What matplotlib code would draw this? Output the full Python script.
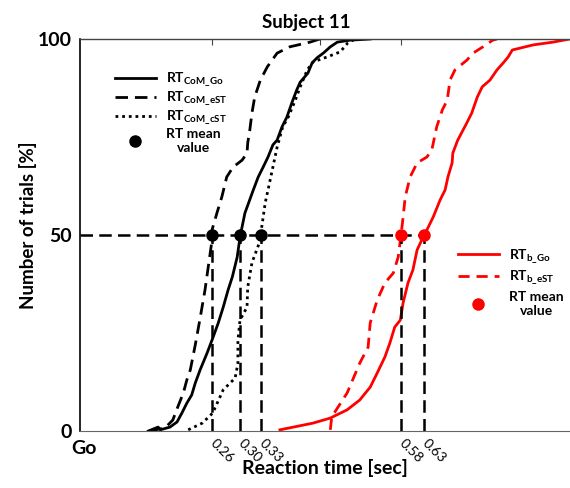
import matplotlib
matplotlib.use("Agg")
import matplotlib.pyplot as plt
from matplotlib.lines import Line2D

plt.rcParams['font.family'] = ['Lato', 'DejaVu Sans']
plt.rcParams['mathtext.fontset'] = 'custom'
plt.rcParams['mathtext.rm'] = 'Lato'
plt.rcParams['mathtext.bf'] = 'Lato:bold'

# cumulative reaction time curves (sec, % of trials)
com_go_t = [0.169, 0.183, 0.186, 0.200, 0.210, 0.217, 0.224, 0.231, 0.236, 0.243, 0.253, 0.260,
            0.269, 0.276, 0.283, 0.289, 0.296, 0.300, 0.307, 0.319, 0.326, 0.333, 0.340, 0.347,
            0.353, 0.360, 0.367, 0.374, 0.381, 0.386, 0.397, 0.403, 0.410, 0.419, 0.429, 0.439,
            0.457, 0.486]
com_go_p = [0, 1.0, 0.3, 1.0, 2.3, 4.6, 7.1, 9.2, 12.2, 15.6, 19.9, 23.2, 27.6, 31.6, 36.0, 39.3,
            44.4, 49.5, 55.6, 61.5, 64.8, 67.3, 69.9, 73.0, 74.2, 77.6, 80.1, 83.7, 87.0, 89.0,
            91.3, 93.9, 95.2, 96.4, 98.0, 99.2, 99.7, 100]

com_est_t = [0.171, 0.193, 0.204, 0.211, 0.219, 0.224, 0.229, 0.236, 0.243, 0.250, 0.254, 0.259,
             0.260, 0.267, 0.274, 0.281, 0.290, 0.303, 0.310, 0.311, 0.314, 0.317, 0.321, 0.329,
             0.339, 0.353, 0.371, 0.400, 0.414]
com_est_p = [0, 0.8, 2.8, 6.1, 9.7, 13.0, 15.6, 21.9, 28.8, 36.0, 41.1, 47.4, 51.3, 55.6, 59.7,
             64.8, 67.3, 69.1, 70.9, 73.5, 76.8, 81.1, 85.2, 89.5, 92.9, 96.4, 98.0, 99.2, 100]

com_cst_t = [0.226, 0.246, 0.261, 0.276, 0.293, 0.297, 0.297, 0.300, 0.310, 0.311, 0.317, 0.329,
             0.331, 0.336, 0.343, 0.353, 0.361, 0.369, 0.379, 0.386, 0.396, 0.404, 0.424, 0.443,
             0.454, 0.461, 0.471]
com_cst_p = [0.3, 2.0, 4.6, 10.5, 13.5, 17.3, 23.2, 28.3, 31.6, 36.7, 42.9, 48.7, 52.0, 58.2,
             64.0, 72.4, 77.6, 80.1, 84.4, 87.8, 92.1, 94.1, 95.4, 96.7, 99.0, 99.7, 100]

b_go_t = [0.357, 0.404, 0.429, 0.453, 0.471, 0.486, 0.496, 0.507, 0.514, 0.521, 0.529, 0.533,
          0.540, 0.547, 0.553, 0.563, 0.567, 0.576, 0.586, 0.593, 0.597, 0.603, 0.604, 0.611,
          0.624, 0.631, 0.639, 0.646, 0.657, 0.667, 0.676, 0.683, 0.689, 0.719, 0.747, 0.771]
b_go_p = [0.3, 2.0, 3.3, 5.4, 7.9, 11.2, 14.8, 18.9, 22.4, 26.5, 28.3, 32.7, 37.8, 41.1, 46.2,
          50.0, 51.3, 54.6, 59.0, 61.5, 64.8, 68.4, 70.9, 74.2, 78.6, 81.1, 85.2, 87.8, 89.5,
          92.1, 93.9, 95.4, 97.2, 98.5, 99.2, 100]

b_est_t = [0.429, 0.431, 0.453, 0.471, 0.483, 0.486, 0.496, 0.507, 0.519, 0.526, 0.530, 0.533,
           0.536, 0.543, 0.553, 0.567, 0.574, 0.581, 0.589, 0.596, 0.600, 0.607, 0.624, 0.633,
           0.647, 0.661, 0.667]
b_est_p = [0.3, 3.6, 9.7, 17.3, 21.4, 27.6, 33.4, 37.8, 40.3, 44.4, 50.0, 54.6, 59.7, 64.8,
           68.4, 69.9, 71.7, 77.6, 81.9, 84.4, 89.5, 92.1, 94.6, 96.4, 98.0, 99.7, 100]

# mean values: position on the axis and the label printed there
mean_x = [0.260, 0.300, 0.330, 0.530, 0.563]
mean_labels = ['0.26', '0.30', '0.33', '0.58', '0.63']
mean_colors = ['black', 'black', 'black', 'red', 'red']
mean_level = 50
top_ticks = [0.260, 0.414, 0.530]

fig = plt.figure(figsize=(5.7, 4.88), dpi=100)
ax = fig.add_axes([80 / 570, 57 / 488, 490 / 570, 392 / 488])

lw = 2.0
ax.plot(com_go_t, com_go_p, color='black', lw=lw)
ax.plot(com_est_t, com_est_p, color='black', lw=lw, dashes=(4.5, 2.5))
ax.plot(com_cst_t, com_cst_p, color='black', lw=lw, dashes=(1, 1.4))
ax.plot(b_go_t, b_go_p, color='red', lw=lw)
ax.plot(b_est_t, b_est_p, color='red', lw=lw, dashes=(4, 2.5))

# mean guide lines
ax.plot([0.0714, max(mean_x)], [mean_level, mean_level], color='black', lw=1.8, dashes=(5, 2.5))
for mx in mean_x:
    ax.plot([mx, mx], [0, mean_level], color='black', lw=1.8, dashes=(5, 2.5))
for mx, c in zip(mean_x, mean_colors):
    ax.plot(mx, mean_level, 'o', color=c, ms=8, zorder=5)

ax.set_xlim(0.0714, 0.7714)
ax.set_ylim(0, 100)
ax.set_yticks([0, 50, 100])
ax.set_yticklabels(['0', '50', '100'], fontsize=14, fontweight='bold')
ax.set_xticks(mean_x)
for lab in ax.set_xticklabels(mean_labels, fontsize=10):
    lab.set_rotation(-45)
    lab.set_rotation_mode('anchor')
    lab.set_ha('left')
    lab.set_va('center')
ax.tick_params(axis='x', length=0, pad=7)
ax.tick_params(axis='y', length=0, pad=6)
ax.spines['right'].set_visible(False)
ax.spines['bottom'].set_color('#666666')
ax.spines['left'].set_linewidth(1.2)
ax.spines['top'].set_linewidth(1.0)
ax.spines['top'].set_color('#444444')

sec = ax.secondary_xaxis('top')
sec.set_xticks(top_ticks)
sec.set_xticklabels([])
sec.tick_params(direction='in', length=4, color='#444444')
sec.spines['top'].set_visible(False)

ax.set_title('Subject 11', fontsize=13.5, fontweight='bold', x=0.461, pad=8)
ax.set_ylabel('Number of trials [%]', fontsize=13.5, fontweight='bold')
ax.yaxis.set_label_coords(-0.088, 0.525)
ax.set_xlabel('Reaction time [sec]', fontsize=14, fontweight='bold')
ax.xaxis.set_label_coords(0.5, -0.072)
ax.text(-0.018, -0.045, 'Go', transform=ax.transAxes, fontsize=14, fontweight='bold',
        ha='left', va='center')

h1 = [Line2D([], [], color='black', lw=lw),
      Line2D([], [], color='black', lw=lw, dashes=(4.5, 2.5)),
      Line2D([], [], color='black', lw=lw, dashes=(1, 1.4)),
      Line2D([], [], color='black', ls='none', marker='o', ms=8)]
l1 = [r'RT$_{\mathbf{CoM\_Go}}$', r'RT$_{\mathbf{CoM\_eST}}$', r'RT$_{\mathbf{CoM\_cST}}$',
      'RT mean\nvalue']
leg1 = ax.legend(h1, l1, loc='upper left', bbox_to_anchor=(0.045, 0.95), frameon=False,
                 handlelength=3.0, handletextpad=0.7, labelspacing=0.05,
                 prop={'weight': 'bold', 'size': 10})
for t in leg1.get_texts():
    t.set_multialignment('center')
ax.add_artist(leg1)

h2 = [Line2D([], [], color='red', lw=lw),
      Line2D([], [], color='red', lw=lw, dashes=(4, 2.5)),
      Line2D([], [], color='red', ls='none', marker='o', ms=8)]
l2 = [r'RT$_{\mathbf{b\_Go}}$', r'RT$_{\mathbf{b\_eST}}$', 'RT mean\nvalue']
leg2 = ax.legend(h2, l2, loc='upper left', bbox_to_anchor=(0.745, 0.50), frameon=False,
                 handlelength=3.0, handletextpad=0.7, labelspacing=0.25,
                 prop={'weight': 'bold', 'size': 10})
for t in leg2.get_texts():
    t.set_multialignment('center')

fig.savefig('out.png', dpi=100)
